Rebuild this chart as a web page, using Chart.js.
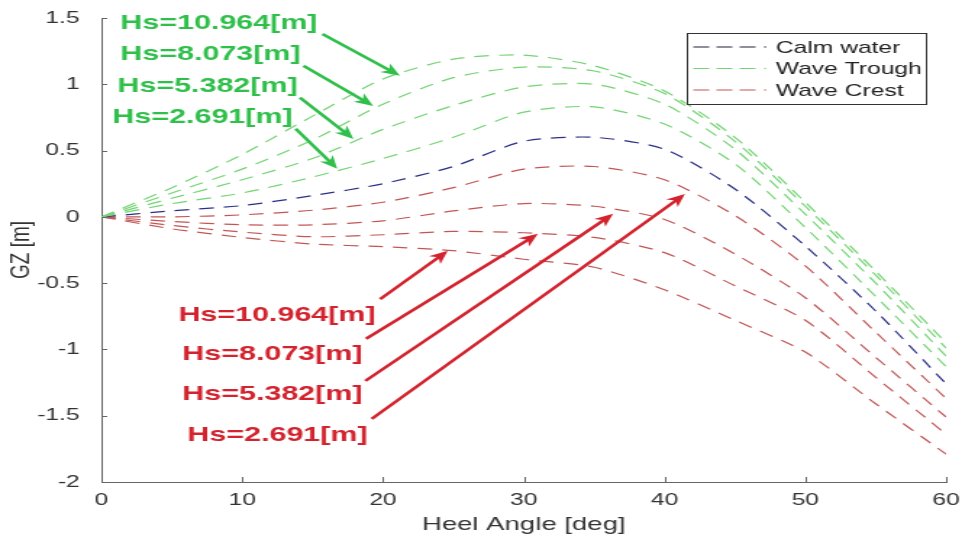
<!DOCTYPE html>
<html>
<head>
<meta charset="utf-8">
<title>GZ curves</title>
<script src="https://cdn.jsdelivr.net/npm/chart.js@4.4.1/dist/chart.umd.min.js"></script>
<style>
  html, body { margin: 0; padding: 0; background: #fff; }
  #gzChart { display: block; }
</style>
</head>
<body>
<!-- drawn narrow and shown wide, like the exported figure -->
<canvas id="gzChart" width="664" height="538" style="width:962px;height:538px"></canvas>
<script>
// heel angle [deg]
const heelAngles = [0, 5, 10, 15, 20, 25, 30, 35, 40, 45, 50, 55, 60];

// GZ [m] in calm water
const gzCalm = [0, 0.045, 0.085, 0.16, 0.25, 0.38, 0.57, 0.60, 0.51, 0.21, -0.22, -0.71, -1.26];

// GZ [m] with the wave trough amidships
const gzTrough2691  = [0, 0.10, 0.18, 0.30, 0.44, 0.60, 0.79, 0.83, 0.70, 0.40, -0.08, -0.60, -1.13];
const gzTrough5382  = [0, 0.14, 0.28, 0.44, 0.66, 0.84, 0.98, 1.00, 0.85, 0.51, 0.02, -0.50, -1.05];
const gzTrough8073  = [0, 0.18, 0.36, 0.58, 0.85, 1.05, 1.13, 1.10, 0.93, 0.57, 0.08, -0.44, -0.99];
const gzTrough10964 = [0, 0.22, 0.47, 0.76, 1.04, 1.19, 1.22, 1.14, 0.95, 0.60, 0.11, -0.41, -0.95];

// GZ [m] with the wave crest amidships
const gzCrest2691  = [0, 0.0, 0.015, 0.05, 0.11, 0.22, 0.36, 0.38, 0.28, 0.01, -0.37, -0.87, -1.37];
const gzCrest5382  = [0, -0.035, -0.06, -0.06, -0.03, 0.045, 0.10, 0.08, -0.02, -0.28, -0.61, -1.06, -1.51];
const gzCrest8073  = [0, -0.065, -0.115, -0.15, -0.135, -0.11, -0.12, -0.155, -0.27, -0.52, -0.78, -1.21, -1.64];
const gzCrest10964 = [0, -0.09, -0.155, -0.205, -0.225, -0.255, -0.32, -0.38, -0.55, -0.78, -1.02, -1.41, -1.79];

const xTickValues = [0, 10, 20, 30, 40, 50, 60];
const yTickValues = [-2, -1.5, -1, -0.5, 0, 0.5, 1, 1.5];

const legendNames = ["Calm water", "Wave Trough", "Wave Crest"];

const calmColor = "#2b2f86";
const troughColor = "#74d474";
const crestColor = "#c25656";
const troughText = "#2fbf4a";
const crestText = "#d2232e";
const axisFont = "'Liberation Sans', Arial, sans-serif";

// Hs labels with arrows, anchored in data units
const hsNotes = [
    { text: "Hs=10.964[m]", color: troughText, at: [1.35, 1.46],  from: [15.7, 1.38],  to: [21.2, 1.064] },
    { text: "Hs=8.073[m]",  color: troughText, at: [1.35, 1.226], from: [14.35, 1.14], to: [19.3, 0.837] },
    { text: "Hs=5.382[m]",  color: troughText, at: [1.14, 0.988], from: [14.1, 0.90],  to: [17.9, 0.588] },
    { text: "Hs=2.691[m]",  color: troughText, at: [0.78, 0.754], from: [13.8, 0.665], to: [16.75, 0.362] },
    { text: "Hs=10.964[m]", color: crestText,  at: [5.47, -0.739], from: [19.8, -0.62], to: [24.6, -0.256] },
    { text: "Hs=8.073[m]",  color: crestText,  at: [5.75, -1.033], from: [18.8, -0.92], to: [31.0, -0.128] },
    { text: "Hs=5.382[m]",  color: crestText,  at: [5.75, -1.335], from: [18.75, -1.237], to: [36.35, 0.023] },
    { text: "Hs=2.691[m]",  color: crestText,  at: [6.11, -1.644], from: [19.2, -1.524], to: [41.45, 0.173] }
];

function toPoints(values) {
    return heelAngles.map((a, i) => ({ x: a, y: values[i] }));
}

function curve(label, values, color) {
    return {
        label: label,
        data: toPoints(values),
        borderColor: color,
        borderWidth: 1.2,
        borderDash: [10, 7],
        pointRadius: 0,
        tension: 0.25,
        fill: false
    };
}

const datasets = [
    curve("Wave Trough Hs=10.964", gzTrough10964, troughColor),
    curve("Wave Trough Hs=8.073", gzTrough8073, troughColor),
    curve("Wave Trough Hs=5.382", gzTrough5382, troughColor),
    curve("Wave Trough Hs=2.691", gzTrough2691, troughColor),
    curve("Calm water", gzCalm, calmColor),
    curve("Wave Crest Hs=2.691", gzCrest2691, crestColor),
    curve("Wave Crest Hs=5.382", gzCrest5382, crestColor),
    curve("Wave Crest Hs=8.073", gzCrest8073, crestColor),
    curve("Wave Crest Hs=10.964", gzCrest10964, crestColor)
];

function drawArrow(ctx, x1, y1, x2, y2, color) {
    const ang = Math.atan2(y2 - y1, x2 - x1);
    const c = Math.cos(ang), s = Math.sin(ang);
    const head = 13, half = 5.5;
    const bx = x2 - head * c, by = y2 - head * s;
    ctx.strokeStyle = color;
    ctx.lineWidth = 2.6;
    ctx.beginPath();
    ctx.moveTo(x1, y1);
    ctx.lineTo(x2 - head * 0.6 * c, y2 - head * 0.6 * s);
    ctx.stroke();
    ctx.fillStyle = color;
    ctx.beginPath();
    ctx.moveTo(x2, y2);
    ctx.lineTo(bx + half * s, by - half * c);
    ctx.lineTo(x2 - head * 0.7 * c, y2 - head * 0.7 * s);
    ctx.lineTo(bx - half * s, by + half * c);
    ctx.closePath();
    ctx.fill();
}

// inward tick marks, legend box and the Hs notes
const figureExtras = {
    id: "figureExtras",
    afterDraw(chart) {
        const ctx = chart.ctx;
        const xs = chart.scales.x, ys = chart.scales.y;
        const area = chart.chartArea;
        ctx.save();

        ctx.strokeStyle = "#666";
        ctx.lineWidth = 1;
        ctx.beginPath();
        xTickValues.forEach(v => {
            const px = Math.round(xs.getPixelForValue(v)) + 0.5;
            ctx.moveTo(px, area.bottom);
            ctx.lineTo(px, area.bottom - 5);
        });
        yTickValues.forEach(v => {
            const py = Math.round(ys.getPixelForValue(v)) + 0.5;
            ctx.moveTo(area.left, py);
            ctx.lineTo(area.left + 4, py);
        });
        ctx.stroke();

        // legend
        const boxRight = area.right - 14.5, boxLeft = boxRight - 165;
        const boxTop = area.top + 15, boxBottom = boxTop + 71;
        ctx.fillStyle = "#fff";
        ctx.fillRect(boxLeft, boxTop, boxRight - boxLeft, boxBottom - boxTop);
        ctx.strokeStyle = "#333";
        ctx.strokeRect(Math.round(boxLeft) + 0.5, Math.round(boxTop) + 0.5,
                       Math.round(boxRight - boxLeft), Math.round(boxBottom - boxTop));
        const legendColors = ["#1e1e3a", troughColor, crestColor];
        ctx.font = "17px " + axisFont;
        ctx.textBaseline = "middle";
        ctx.textAlign = "left";
        legendNames.forEach((name, i) => {
            const y = boxTop + 14 + i * 21.5;
            ctx.strokeStyle = legendColors[i];
            ctx.lineWidth = 1.2;
            ctx.setLineDash([11, 5]);
            ctx.beginPath();
            ctx.moveTo(boxLeft + 5, y);
            ctx.lineTo(boxLeft + 53, y);
            ctx.stroke();
            ctx.setLineDash([]);
            ctx.fillStyle = legendColors[i];
            ctx.fillRect(boxLeft + 54, y - 0.6, 1.2, 1.2);
            ctx.fillStyle = "#222";
            ctx.fillText(name, boxLeft + 62, y + 1);
        });

        // Hs notes
        ctx.font = "bold 21px " + axisFont;
        hsNotes.forEach(n => {
            ctx.fillStyle = n.color;
            ctx.fillText(n.text, xs.getPixelForValue(n.at[0]), ys.getPixelForValue(n.at[1]));
            drawArrow(ctx,
                xs.getPixelForValue(n.from[0]), ys.getPixelForValue(n.from[1]),
                xs.getPixelForValue(n.to[0]), ys.getPixelForValue(n.to[1]),
                n.color);
        });
        ctx.restore();
    }
};

new Chart(document.getElementById("gzChart"), {
    type: "line",
    data: { datasets: datasets },
    options: {
        responsive: false,
        devicePixelRatio: 1,
        animation: false,
        layout: { padding: { top: 18, right: 11, left: 0, bottom: 0 } },
        plugins: {
            legend: { display: false },
            tooltip: { enabled: false }
        },
        scales: {
            x: {
                type: "linear",
                min: 0,
                max: 60,
                afterBuildTicks: scale => { scale.ticks = xTickValues.map(v => ({ value: v })); },
                afterFit: scale => {
                    scale.height = 56;
                    scale.paddingLeft = 0;
                    scale.paddingRight = 0;
                },
                grid: { display: false },
                border: { color: "#666", width: 1 },
                ticks: {
                    color: "#333",
                    padding: 0,
                    maxRotation: 0,
                    font: { family: axisFont, size: 17 },
                    callback: v => String(v)
                },
                title: {
                    display: true,
                    text: "Heel Angle [deg]",
                    color: "#333",
                    padding: { top: 0, bottom: 2 },
                    font: { family: axisFont, size: 19 }
                }
            },
            y: {
                type: "linear",
                min: -2,
                max: 1.5,
                afterBuildTicks: scale => { scale.ticks = yTickValues.map(v => ({ value: v })); },
                afterFit: scale => { scale.width = 70; },
                grid: { display: false },
                border: { color: "#666", width: 1 },
                ticks: {
                    color: "#333",
                    padding: 7,
                    font: { family: axisFont, size: 17 },
                    callback: v => String(v)
                },
                title: {
                    display: true,
                    text: "GZ [m]",
                    color: "#333",
                    padding: { top: 3, bottom: 0 },
                    font: { family: axisFont, size: 19 }
                }
            }
        }
    },
    plugins: [figureExtras]
});
</script>
</body>
</html>
